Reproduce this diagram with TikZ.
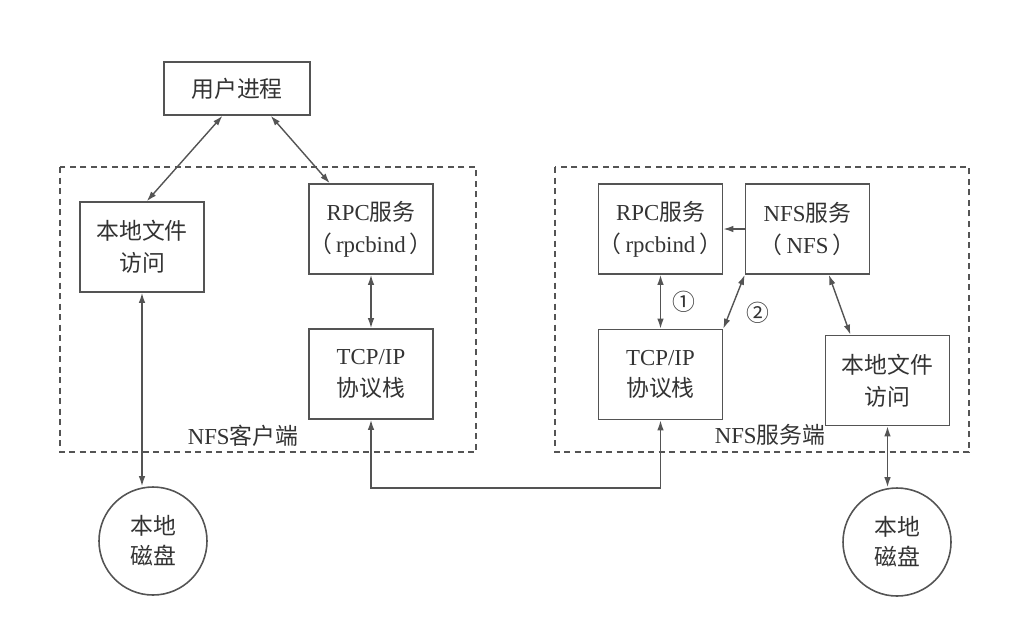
\documentclass[tikz,border=0pt]{standalone}
\usepackage{fontspec}
\setmainfont{Liberation Serif}
\newfontfamily\cjk{Noto Sans CJK SC}
\usepackage{xcolor}
\usetikzlibrary{positioning,arrows.meta}
\definecolor{linegray}{gray}{0.33}
\definecolor{textgray}{gray}{0.2}

\begin{document}
\begin{tikzpicture}[x=0.2mm, y=-0.2mm, >={Latex[length=2mm,width=1.3mm]},
  box/.style={draw=linegray, line width=0.9pt, minimum width=24.8mm, minimum height=18mm,
    inner sep=0pt, align=center, text=textgray, font=\fontsize{13}{18}\selectfont},
  disk/.style={circle, draw=linegray, line width=0.9pt, minimum size=21.6mm,
    inner sep=0pt, align=center, text=textgray, font=\fontsize{13}{17}\selectfont},
  frame/.style={draw=linegray, line width=0.7pt, dash pattern=on 1.2mm off 0.9mm},
  link/.style={draw=linegray, line width=0.8pt},
  tag/.style={text=textgray, font=\fontsize{13}{16}\selectfont}]
\useasboundingbox (0,0) rectangle (1031,631);
% dashed frames: client and server
\draw[frame] (60,167) rectangle (476,452);
\draw[frame] (555,167) rectangle (969,452);
\node[tag] (clientlbl) at (243,436) {NFS{\cjk 客户端}};
\node[tag] (serverlbl) at (770,435) {NFS{\cjk 服务端}};
% user process
\node[box, minimum width=29.2mm, minimum height=10.6mm] (user) at (237,88.5) {{\cjk 用户进程}};
% client side
\node[box] (clfa) at (142,247) {{\cjk 本地文件}\\{\cjk 访问}};
\node[box] (crpc) at (371,229) {RPC{\cjk 服务}\\{\cjk （}\,rpcbind\,{\cjk ）}};
\node[box] (ctcp) at (371,374) {TCP/IP\\{\cjk 协议栈}};
\node[disk] (cdisk) at (153,541) {{\cjk 本地}\\{\cjk 磁盘}};
% server side
\node[box] (srpc) at (660.5,229) {RPC{\cjk 服务}\\{\cjk （}\,rpcbind\,{\cjk ）}};
\node[box] (snfs) at (807.5,229) {NFS{\cjk 服务}\\{\cjk （}\,NFS\,{\cjk ）}};
\node[box] (stcp) at (660.5,374.5) {TCP/IP\\{\cjk 协议栈}};
\node[box] (slfa) at (887.5,380.5) {{\cjk 本地文件}\\{\cjk 访问}};
\node[disk] (sdisk) at (897,542) {{\cjk 本地}\\{\cjk 磁盘}};
\coordinate (bus) at (0,488);
% client links
\draw[link, <->] (user.242) -- (clfa.84);
\draw[link, <->] (user.-39) -- (crpc.132);
\draw[link, <->] (crpc.south) -- (ctcp.north);
\draw[link, <->] (clfa.south) -- (clfa.south |- cdisk.north);
% network between the two stacks
\draw[link, <->] (ctcp.south) -- (ctcp.south |- bus) -- (stcp.south |- bus) -- (stcp.south);
% server links
\draw[link, ->] (snfs.west) -- (srpc.east);
\draw[link, <->] (srpc.south) -- (stcp.north) node[tag, midway, right=1mm] {{\cjk ①}};
\draw[link, <->] (stcp.north east) -- (snfs.south west) node[tag, pos=0.3, right=2mm] {{\cjk ②}};
\draw[link, <->] (snfs.-65) -- (slfa.129);
\draw[link, <->] (slfa.south) -- (slfa.south |- sdisk.north);
\end{tikzpicture}
\end{document}
